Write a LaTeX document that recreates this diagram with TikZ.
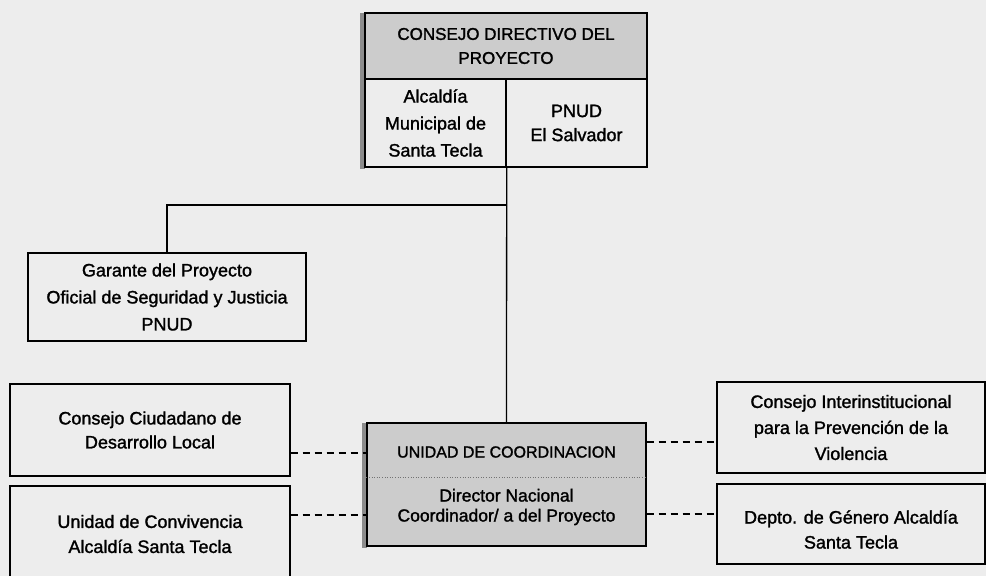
\documentclass[tikz,border=0pt]{standalone}
\usepackage{fontspec}
\setmainfont{Liberation Sans}[FakeBold=1.5]
\definecolor{bgc}{gray}{0.93}
\definecolor{shadec}{gray}{0.8}
\begin{document}
\begin{tikzpicture}[x=1pt,y=-1pt,
  box/.style={draw=black, line width=1.4pt, fill=bgc, inner sep=0pt, align=center,
    font=\fontsize{18}{25}\selectfont},
  shadedbox/.style={box, fill=shadec},
  conn/.style={line width=1.3pt, draw=black},
  dashconn/.style={conn, dash pattern=on 7pt off 5pt},
  txt/.style={inner sep=0pt, align=center}]
\clip (0,0) rectangle (986,576);
\fill[bgc] (0,0) rectangle (986,576);
\useasboundingbox (0,0) rectangle (986,576);

% shadows on the left side of shaded boxes
\fill[black!45] (360,13) rectangle (365,169);
\fill[black!45] (362,423) rectangle (367,548);

% top board
\node[shadedbox, minimum width=282pt, minimum height=66pt, font=\fontsize{17}{24}\selectfont]
  (hdr) at (506,46) {CONSEJO DIRECTIVO DEL\\PROYECTO};
\node[box, minimum width=141pt, minimum height=88pt, font=\fontsize{18}{27}\selectfont]
  (alc) at (435.5,123) {Alcaldía\\Municipal de\\Santa Tecla};
\node[box, minimum width=141pt, minimum height=88pt, font=\fontsize{18}{24}\selectfont]
  (pnud) at (576.5,123) {PNUD\\El Salvador};

% guarantor
\node[box, minimum width=278pt, minimum height=88pt, font=\fontsize{18}{27}\selectfont]
  (gar) at (167,297) {Garante del Proyecto\\Oficial de Seguridad y Justicia\\PNUD};

% coordination unit
\node[shadedbox, minimum width=279pt, minimum height=123pt] (uc) at (506.5,484.5) {};
\node[txt, font=\fontsize{16}{19}\selectfont] (uctitle) at (506.5,452) {UNIDAD DE COORDINACION};
\node[txt, font=\fontsize{17.5}{20}\selectfont] (ucdir) at (506.5,507) {Director Nacional\\Coordinador/ a del Proyecto};
\draw[black!55, line width=0.6pt, dotted] (uc.west |- 0,477) -- (uc.east |- 0,477);

% left boxes
\node[box, minimum width=280pt, minimum height=92pt, font=\fontsize{18}{24}\selectfont]
  (cc) at (150,430) {Consejo Ciudadano de\\Desarrollo Local};
\node[box, minimum width=280pt, minimum height=96pt, font=\fontsize{18}{25}\selectfont]
  (uconv) at (150,534) {Unidad de Convivencia\\Alcaldía Santa Tecla};

% right boxes
\node[box, minimum width=268pt, minimum height=91pt, font=\fontsize{18}{26}\selectfont]
  (ci) at (851,427.5) {Consejo Interinstitucional\\para la Prevención de la\\Violencia};
\node[box, minimum width=268pt, minimum height=80pt] (dg) at (851,524) {};
\node[txt, font=\fontsize{18}{25}\selectfont] (dgtext) at (851,529.5) {Depto. de Género Alcaldía\\Santa Tecla};

% connectors
\coordinate (j) at (506,205);
\coordinate (yl1) at (0,453);
\coordinate (yl2) at (0,515);
\coordinate (yr1) at (0,442);
\coordinate (yr2) at (0,514);
\draw[conn] (alc.south east) -- (uc.north);
\draw[conn] (j) -| (gar.north);
\draw[dashconn] (cc.east |- yl1) -- (uc.west |- yl1);
\draw[dashconn] (uconv.east |- yl2) -- (uc.west |- yl2);
\draw[dashconn] (uc.east |- yr1) -- (ci.west |- yr1);
\draw[dashconn] (uc.east |- yr2) -- (dg.west |- yr2);
\end{tikzpicture}
\end{document}
